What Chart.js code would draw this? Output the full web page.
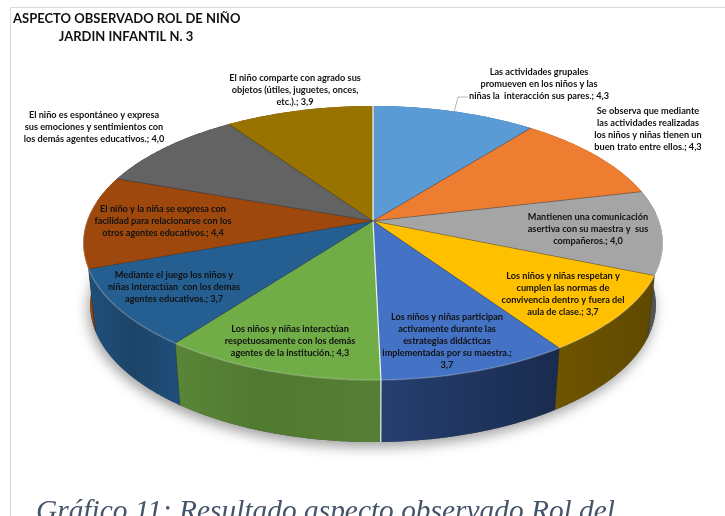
<!DOCTYPE html>
<html lang="es">
<head>
<meta charset="utf-8">
<style>
html,body{margin:0;padding:0;background:#fff;width:725px;height:516px;overflow:hidden}
#wrap{position:relative;width:725px;height:516px}
canvas{display:block;filter:blur(0.35px)}
</style>
<script src="https://cdn.jsdelivr.net/npm/chart.js@4/dist/chart.umd.min.js"></script>
</head>
<body>
<div id="wrap"><canvas id="c" width="725" height="516"></canvas></div>
<script>
const titleLines = ["ASPECTO OBSERVADO ROL DE NIÑO", "JARDIN INFANTIL N. 3"];
const captionText = "Gráfico 11: Resultado aspecto observado Rol del";
const categories = [
  ["Las actividades grupales","promueven en los niños y las","niñas la  interacción sus pares."],
  ["Se observa que mediante","las actividades realizadas","los niños y niñas tienen un","buen trato entre ellos."],
  ["Mantienen una comunicación","asertiva con su maestra y  sus","compañeros."],
  ["Los niños y niñas respetan y","cumplen las normas de","convivencia dentro y fuera del","aula de clase."],
  ["Los niños y niñas participan","activamente durante las","estrategias didácticas","implementadas por su maestra."],
  ["Los niños y niñas interactúan","respetuosamente con los demás","agentes de la institución."],
  ["Mediante el juego los niños y","niñas interactúan  con los demas","agentes educativos."],
  ["El niño y la niña se expresa con","facilidad para relacionarse con los","otros agentes educativos."],
  ["El niño es espontáneo y expresa","sus emociones y sentimientos con","los demás agentes educativos."],
  ["El niño comparte con agrado sus","objetos (útiles, juguetes, onces,","etc.)."]
];
const values = [4.3,4.3,4.0,3.7,3.7,4.3,3.7,4.4,4.0,3.9];
const topColors = ["#5B9BD5","#ED7D31","#A5A5A5","#FFC000","#4472C4","#70AD47","#255E91","#9E480E","#636363","#997300"];
const sideLight = ["#3f6f9c","#a85820","#666666","#6e5500","#263f70","#557f34","#1f4f7c","#a84e10","#4a4a4a","#6e5300"];
const sideDark  = ["#2f5a80","#8a4818","#4a4a4a","#5f4900","#192b4e","#3f5c26","#1c4468","#8e400c","#3a3a3a","#5a4400"];

// Layout of the drawing (not data)
const P = {cx:373, cy:221, rx:286, ry:133.5, k:0.1606, depth:62, shrink:0.976};
const labelCenters = [[539,72],[648,111],[588,217],[563,276],[447,317],[290,329],[174,275],[163,209],[94,115],[295,78]];
const lineGap = 12;
const valueOwnLine = 4;

function topPt(a){
  const u=Math.cos(a), v=Math.sin(a), d=1-P.k*v;
  return [P.cx+P.rx*u/d, P.cy+P.ry*v/d];
}
function botPt(a){
  const p=topPt(a);
  return [P.cx+(p[0]-P.cx)*P.shrink, p[1]+P.depth];
}
function rim(fn,a0,a1){
  const n=Math.max(2,Math.ceil(Math.abs(a1-a0)/0.01)), out=[];
  for(let i=0;i<=n;i++) out.push(fn(a0+(a1-a0)*i/n));
  return out;
}
function trace(ctx,pts,move){
  pts.forEach((p,i)=>{ if(i===0&&move) ctx.moveTo(p[0],p[1]); else ctx.lineTo(p[0],p[1]); });
}
const fmt = v => v.toFixed(1).replace('.',',');

const pie3d = {
  id:'pie3d',
  beforeDatasetDraw(chart){
    const ctx=chart.ctx, arcs=chart.getDatasetMeta(0).data;
    const seg=arcs.map((e,i)=>({i,a0:e.startAngle,a1:e.endAngle}));

    // soft shadow under the whole pie
    ctx.save();
    ctx.shadowColor='rgba(0,0,0,0.38)'; ctx.shadowBlur=13; ctx.shadowOffsetX=-2; ctx.shadowOffsetY=5;
    ctx.fillStyle='#555';
    ctx.beginPath();
    trace(ctx,rim(botPt,-Math.PI/2,1.5*Math.PI),true);
    ctx.closePath(); ctx.fill();
    ctx.restore();

    // sides, back to front
    const order=seg.slice().sort((s,t)=>Math.sin((s.a0+s.a1)/2)-Math.sin((t.a0+t.a1)/2));
    order.forEach(s=>{
      const t=rim(topPt,s.a0,s.a1), b=rim(botPt,s.a0,s.a1);
      const xs=t.concat(b).map(p=>p[0]), x0=Math.min(...xs), x1=Math.max(...xs);
      const g=ctx.createLinearGradient(x0,0,x1,0);
      const leftSide=Math.cos((s.a0+s.a1)/2)<0;
      g.addColorStop(0,leftSide?sideDark[s.i]:sideLight[s.i]);
      g.addColorStop(1,leftSide?sideLight[s.i]:sideDark[s.i]);
      if(s.i===5){g.addColorStop(0,'#5a8638');g.addColorStop(0.4,'#517a31');g.addColorStop(1,'#3f5c26');}
      if(s.i===6){g.addColorStop(0,'#1f4f7c');g.addColorStop(0.5,'#1c4468');g.addColorStop(1,'#1f4f7c');}
      ctx.fillStyle=g;
      ctx.beginPath();
      trace(ctx,t,true); trace(ctx,b.reverse(),false);
      ctx.closePath(); ctx.fill();
    });

    // top faces
    seg.forEach(s=>{
      ctx.beginPath();
      const c=[P.cx,P.cy];
      ctx.moveTo(c[0],c[1]);
      trace(ctx,rim(topPt,s.a0,s.a1),false);
      ctx.closePath();
      ctx.fillStyle=topColors[s.i];
      ctx.fill();
    });

    // thin dark separators, white where the reference shows a gap
    seg.forEach(s=>{
      const e=topPt(s.a0);
      const white = s.i===0 || s.i===5;
      ctx.beginPath(); ctx.moveTo(P.cx,P.cy); ctx.lineTo(e[0],e[1]);
      ctx.strokeStyle= white?'rgba(255,255,255,0.9)':'rgba(40,40,40,0.45)';
      ctx.lineWidth= white?1.2:0.8;
      ctx.stroke();
      if(Math.sin(s.a0)>0.1){
        const b=botPt(s.a0);
        ctx.beginPath(); ctx.moveTo(e[0],e[1]); ctx.lineTo(b[0],b[1]);
        ctx.strokeStyle= white?'rgba(255,255,255,0.9)':'rgba(20,20,20,0.35)';
        ctx.lineWidth= white?1.2:0.8;
        ctx.stroke();
      }
    });

    // bevel highlight along the front rim
    seg.forEach(s=>{
      const a0=Math.max(s.a0,-0.05), a1=Math.min(s.a1,Math.PI+0.15);
      if(a1<=a0) return;
      ctx.beginPath();
      trace(ctx,rim(p=>{const q=topPt(p);return q;},a0,a1),true);
      ctx.strokeStyle='rgba(255,255,255,0.22)';
      ctx.lineWidth=1.5;
      ctx.stroke();
    });
    return false;
  },
  afterDatasetsDraw(chart){
    const ctx=chart.ctx;
    ctx.save();
    // panel border
    ctx.strokeStyle='#d9d9d9'; ctx.lineWidth=1;
    ctx.beginPath(); ctx.moveTo(10.5,516); ctx.lineTo(10.5,7.5); ctx.lineTo(725,7.5); ctx.stroke();

    // leader line
    ctx.strokeStyle='#a6a6a6'; ctx.lineWidth=0.8;
    ctx.beginPath(); ctx.moveTo(468,97); ctx.lineTo(458,97); ctx.lineTo(454,112); ctx.stroke();

    // title
    ctx.fillStyle='#111'; ctx.textBaseline='middle'; ctx.textAlign='left';
    ctx.font='bold 13px Lato';
    ctx.fillText(titleLines[0],13,19);
    ctx.textAlign='center';
    ctx.fillText(titleLines[1],126,37);

    // slice labels
    ctx.font='bold 9.2px Lato';
    ctx.fillStyle='#111';
    categories.forEach((lines,i)=>{
      const [x,y]=labelCenters[i];
      const txt=lines.slice(), val=fmt(values[i]);
      if(i===valueOwnLine){ txt[txt.length-1]+=';'; txt.push(val); }
      else txt[txt.length-1]+='; '+val;
      txt.forEach((t,j)=>ctx.fillText(t,x,y+j*lineGap));
    });

    // caption
    ctx.textAlign='left'; ctx.textBaseline='alphabetic';
    ctx.fillStyle='#44546A';
    ctx.font='italic 29.4px "Liberation Serif"';
    ctx.fillText(captionText,36,520);
    ctx.restore();
  }
};

new Chart(document.getElementById('c'),{
  type:'pie',
  data:{
    labels:categories,
    datasets:[{data:values,backgroundColor:topColors,borderWidth:0}]
  },
  options:{
    responsive:false,
    animation:false,
    events:[],
    layout:{padding:0},
    plugins:{legend:{display:false},tooltip:{enabled:false},title:{display:false}}
  },
  plugins:[pie3d]
});
</script>
</body>
</html>
